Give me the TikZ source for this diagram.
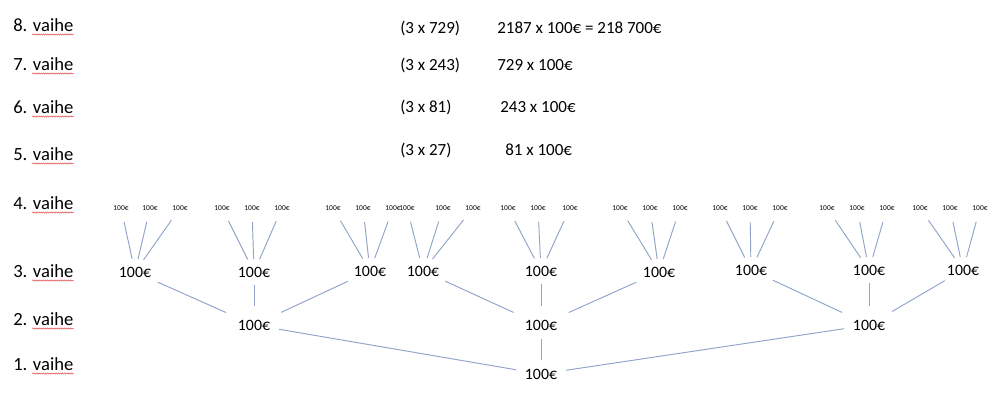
\documentclass[tikz,border=0pt]{standalone}
\usepackage{fontspec}
\setmainfont{Carlito}
\usetikzlibrary{decorations.pathmorphing}
\definecolor{lineblue}{RGB}{143,164,200}
\definecolor{spellred}{RGB}{225,90,90}
\begin{document}
\begin{tikzpicture}[x=0.75pt,y=-0.75pt,
  lbl/.style={font=\fontsize{13.95}{16}\selectfont, anchor=base west, inner sep=0pt},
  calcx/.style={font=\fontsize{12.75}{15}\selectfont, anchor=base west, inner sep=0pt},
  big/.style={font=\fontsize{11.85}{14}\selectfont, inner sep=2pt},
  small/.style={font=\fontsize{5.6}{7}\selectfont, inner sep=1pt},
  conn/.style={draw=lineblue, line width=0.7pt},
  c43/.style={conn, shorten <=7.5pt, shorten >=3.75pt},
  c32/.style={conn, shorten <=3.75pt, shorten >=8pt},
  c21/.style={conn, shorten <=4.5pt, shorten >=4.5pt},
  spell/.style={draw=spellred, line width=0.4pt, decorate, decoration={snake, segment length=1.6pt, amplitude=0.45pt}}
]
\useasboundingbox[fill=white] (0,0) rectangle (1000,404);

% stage labels
\foreach \n/\yb in {8/31,7/70,6/113,5/160,4/209,3/277,2/325,1/370} {
  \node[lbl] (l\n) at (13,\yb) {\n. vaihe};
  \draw[spell] ([shift={(19,3.5)}]l\n.base west) -- ([shift={(0,3.5)}]l\n.base east);
}

% calculations
\node[calcx] (m8) at (400,33) {(3 x 729)};
\node[calcx] (r8) at (497,33) {2187 x 100€ = 218 700€};
\node[calcx] (m7) at (400,70) {(3 x 243)};
\node[calcx] (r7) at (497,70) {729 x 100€};
\node[calcx] (m6) at (400,112) {(3 x 81)};
\node[calcx] (r6) at (500,112) {243 x 100€};
\node[calcx] (m5) at (400,155) {(3 x 27)};
\node[calcx] (r5) at (505,155) {81 x 100€};

% level 1
\node[big] (a) at (541,374) {100€};
% level 2
\node[big] (b1) at (254,325) {100€};
\node[big] (b2) at (541,325) {100€};
\node[big] (b3) at (869,325) {100€};
% level 3
\foreach \i/\x/\y in {1/135/272,2/254/272,3/370/271,4/423/271,5/541/271,6/659/272,7/751/270,8/869/270,9/963/270}
  \node[big] (c\i) at (\x,\y) {100€};

% level 4
\foreach \p/\xa/\xb/\xc in {1/121/150/180,2/222/252/282,3/333/363/393,4/407/443/473,5/508/538/570,6/620/650/680,7/720/750/780,8/827/857/887,9/920/950/980} {
  \foreach \x [count=\k] in {\xa,\xb,\xc} {
    \node[small] (d\p-\k) at (\x,208) {100€};
    \draw[c43] (d\p-\k) -- (c\p);
  }
}

% level 3 -> level 2
\foreach \i in {1,2,3} \draw[c32] (c\i) -- (b1);
\foreach \i in {4,5,6} \draw[c32] (c\i) -- (b2);
\foreach \i in {7,8,9} \draw[c32] (c\i) -- (b3);

% level 2 -> level 1
\foreach \i in {1,2,3} \draw[c21] (b\i) -- (a);
\end{tikzpicture}
\end{document}
